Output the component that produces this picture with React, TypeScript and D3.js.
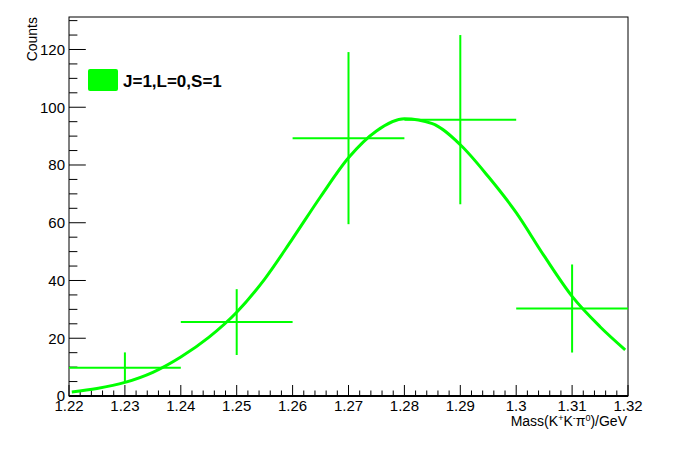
import React from 'react';
import * as d3 from 'd3';

// ---- data ----
const binCenters = [1.23, 1.25, 1.27, 1.29, 1.31];
const binHalfWidth = 0.01;
const counts = [9.8, 25.6, 89.3, 95.7, 30.3];
const errors = [5.3, 11.4, 29.8, 29.3, 15.25];

const curveX = [1.2205, 1.225, 1.23, 1.235, 1.24, 1.245, 1.25, 1.255, 1.26, 1.265, 1.27, 1.275, 1.28, 1.285, 1.29, 1.295, 1.3, 1.305, 1.31, 1.315, 1.3195];
const curveY = [1.4, 2.6, 4.7, 8.2, 13.5, 20.3, 29.0, 40.5, 54.5, 69, 82.5, 91.8, 96, 94.3, 87, 76, 63.5, 48.5, 34.5, 24, 16];

const xTicks = [1.22, 1.23, 1.24, 1.25, 1.26, 1.27, 1.28, 1.29, 1.3, 1.31, 1.32];
const xTickLabels = ['1.22', '1.23', '1.24', '1.25', '1.26', '1.27', '1.28', '1.29', '1.3', '1.31', '1.32'];
const yTicks = [0, 20, 40, 60, 80, 100, 120];
const yTickLabels = ['0', '20', '40', '60', '80', '100', '120'];
const xDomain = [1.22, 1.32];
const yDomain = [0, 131.25];
const legendLabel = 'J=1,L=0,S=1';
const yTitle = 'Counts';

// ---- layout ----
const W = 698, H = 474;
const L = 69, R = 628, T = 17, B = 396;
const GREEN = '#00ff00';
const FONT = '"Liberation Sans", Arial, Helvetica, sans-serif';

export default function App() {
  const x = d3.scaleLinear().domain(xDomain).range([L, R]);
  const y = d3.scaleLinear().domain(yDomain).range([B, T]);

  const xMinor = d3.range(0, 51).map(i => xDomain[0] + i * 0.002);
  const yMinor = d3.range(0, 27).map(i => i * 5);

  const line = d3.line<number>()
    .x((_, i) => x(curveX[i]))
    .y((d) => y(d))
    .curve(d3.curveMonotoneX);

  const majX = 11, minX = 5.5, majY = 16.8, minY = 8.4;

  return (
    <svg width={W} height={H} style={{ position: 'absolute', left: 0, top: 0, background: '#fff' }} fontFamily={FONT}>
      <rect x={0} y={0} width={W} height={H} fill="#fff" />
      {/* frame */}
      <rect x={L} y={T} width={R - L} height={B - T} fill="none" stroke="#000" strokeWidth={1} />
      <line x1={L} x2={R} y1={B} y2={B} stroke="#000" strokeWidth={2} />

      {/* x ticks */}
      {xMinor.map((v, i) => (
        <line key={'xm' + i} x1={x(v)} x2={x(v)} y1={B} y2={B - (i % 5 === 0 ? majX : minX)} stroke="#000" strokeWidth={1} />
      ))}
      {xTicks.map((v, i) => (
        <text key={'xl' + i} x={x(v)} y={411} fontSize={15} textAnchor="middle" fill="#000">{xTickLabels[i]}</text>
      ))}

      {/* y ticks */}
      {yMinor.map((v, i) => (
        <line key={'ym' + i} x1={L} x2={L + (v % 20 === 0 ? majY : minY)} y1={y(v)} y2={y(v)} stroke="#000" strokeWidth={1} />
      ))}
      {yTicks.map((v, i) => (
        <text key={'yl' + i} x={65} y={y(v)} dy="0.36em" fontSize={15} textAnchor="end" fill="#000">{yTickLabels[i]}</text>
      ))}

      {/* axis titles */}
      <text x={627} y={426} fontSize={14} textAnchor="end" fill="#000">
        Mass(K<tspan baselineShift="super" fontSize={9}>+</tspan>K<tspan baselineShift="super" fontSize={9}>-</tspan>π<tspan baselineShift="super" fontSize={9}>0</tspan>)/GeV
      </text>
      <text transform={`translate(37,${T}) rotate(-90)`} fontSize={14} textAnchor="end" fill="#000">{yTitle}</text>

      {/* error bars */}
      {binCenters.map((c, i) => (
        <g key={'eb' + i} stroke={GREEN} strokeWidth={2}>
          <line x1={x(c - binHalfWidth)} x2={x(c + binHalfWidth)} y1={y(counts[i])} y2={y(counts[i])} />
          <line x1={x(c)} x2={x(c)} y1={y(counts[i] - errors[i])} y2={y(counts[i] + errors[i])} />
        </g>
      ))}

      {/* fit curve */}
      <path d={line(curveY) || ''} fill="none" stroke={GREEN} strokeWidth={3} />

      {/* legend */}
      <rect x={88} y={69} width={30} height={22} rx={2} fill={GREEN} />
      <text x={123} y={87} fontSize={17} fontWeight="bold" fill="#000">{legendLabel}</text>
    </svg>
  );
}
